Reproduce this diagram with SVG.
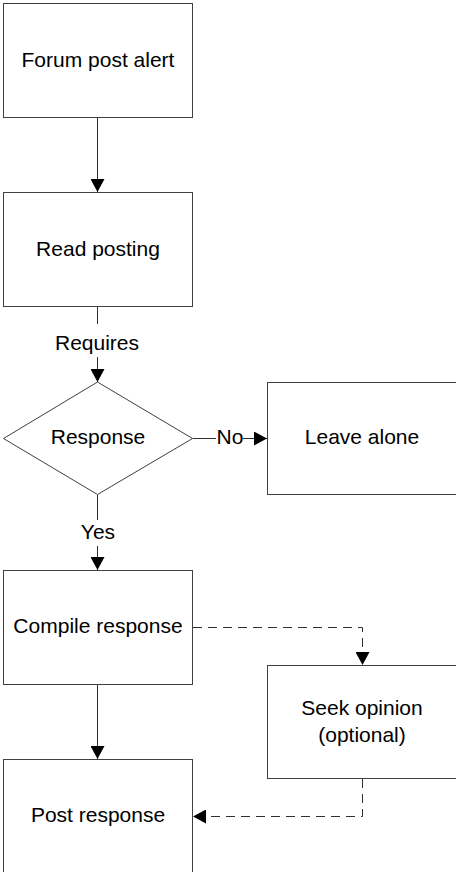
<svg xmlns="http://www.w3.org/2000/svg" width="456" height="872" viewBox="0 0 456 872">
  <style>
    .box { fill: #ffffff; stroke: #404040; stroke-width: 1; }
    .lbl { font-family: "Liberation Sans", Arial, sans-serif; font-size: 21px; fill: #000000; text-anchor: middle; }
    .edge { fill: none; stroke: #303030; stroke-width: 1; }
    .dash { stroke-dasharray: 9 6; }
  </style>
  <defs>
    <marker id="arrow" markerUnits="userSpaceOnUse" markerWidth="14" markerHeight="14" refX="13" refY="7" orient="auto">
      <path d="M0,0 L13,7 L0,14 Z" fill="#000000"/>
    </marker>
  </defs>
  <rect width="456" height="872" fill="#ffffff"/>

  <!-- Nodes -->
  <g id="forum-post-alert">
    <rect class="box" x="3.5" y="3.5" width="189" height="114"/>
    <text class="lbl" x="98" y="67">Forum post alert</text>
  </g>
  <g id="read-posting">
    <rect class="box" x="3.5" y="192.5" width="189" height="114"/>
    <text class="lbl" x="98" y="256">Read posting</text>
  </g>
  <g id="response">
    <polygon class="box" points="97.5,382 192.5,438.5 97.5,494.5 3.5,438.5"/>
    <text class="lbl" x="98" y="444">Response</text>
  </g>
  <g id="leave-alone">
    <rect class="box" x="267.5" y="382.5" width="200" height="112"/>
    <text class="lbl" x="362" y="444">Leave alone</text>
  </g>
  <g id="compile-response">
    <rect class="box" x="3.5" y="570.5" width="189" height="114"/>
    <text class="lbl" x="98" y="633">Compile response</text>
  </g>
  <g id="seek-opinion">
    <rect class="box" x="267.5" y="665.5" width="200" height="113"/>
    <text class="lbl" x="362" y="715">Seek opinion</text>
    <text class="lbl" x="362" y="742">(optional)</text>
  </g>
  <g id="post-response">
    <rect class="box" x="3.5" y="759.5" width="189" height="120"/>
    <text class="lbl" x="98" y="822">Post response</text>
  </g>

  <!-- Connectors -->
  <g id="connectors">
    <line class="edge" x1="97.5" y1="118" x2="97.5" y2="192" marker-end="url(#arrow)"/>

    <line class="edge" x1="97.5" y1="307" x2="97.5" y2="324"/>
    <text class="lbl" x="97" y="350">Requires</text>
    <line class="edge" x1="97.5" y1="357" x2="97.5" y2="382" marker-end="url(#arrow)"/>

    <line class="edge" x1="193" y1="438.5" x2="216" y2="438.5"/>
    <text class="lbl" x="230" y="444">No</text>
    <line class="edge" x1="243" y1="438.5" x2="267" y2="438.5" marker-end="url(#arrow)"/>

    <line class="edge" x1="97.5" y1="495" x2="97.5" y2="520"/>
    <text class="lbl" x="98" y="539">Yes</text>
    <line class="edge" x1="97.5" y1="546" x2="97.5" y2="570" marker-end="url(#arrow)"/>

    <line class="edge" x1="97.5" y1="685" x2="97.5" y2="759" marker-end="url(#arrow)"/>

    <polyline class="edge dash" points="193,627.5 362.5,627.5 362.5,665" marker-end="url(#arrow)"/>
    <polyline class="edge dash" points="362.5,779 362.5,816.5 193,816.5" marker-end="url(#arrow)"/>
  </g>
</svg>
